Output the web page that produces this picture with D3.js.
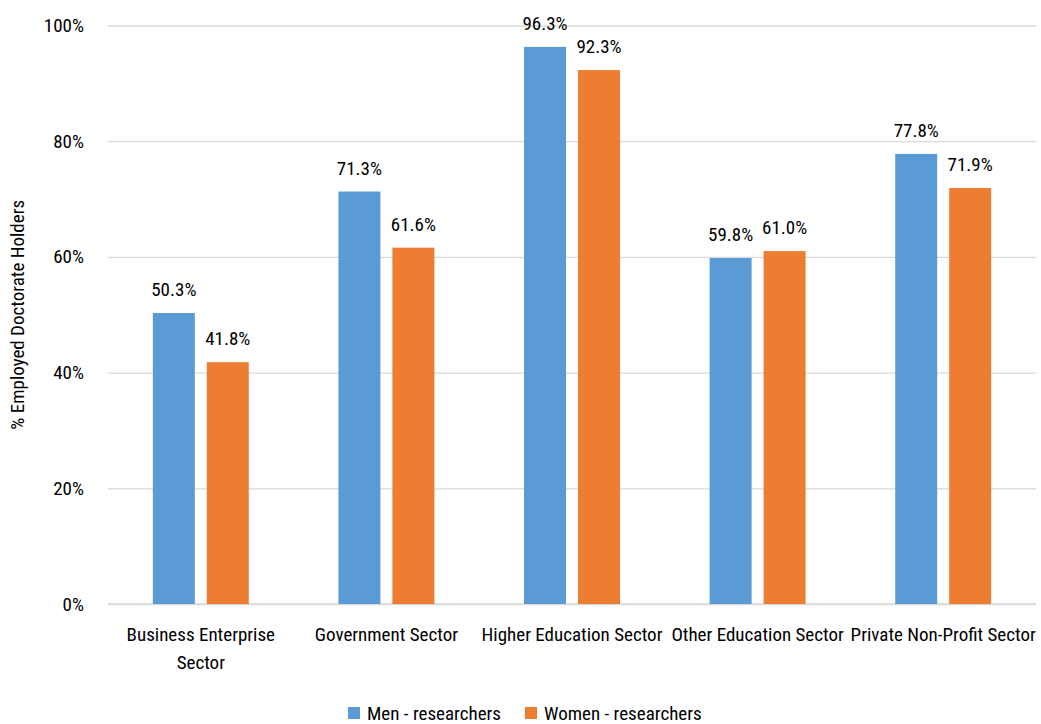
<!DOCTYPE html>
<html>
<head>
<meta charset="utf-8">
<script src="https://cdn.jsdelivr.net/npm/d3@7"></script>
<style>
  body { margin: 0; background: #fff; }
  svg text { font-family: "Liberation Sans Narrow", "Roboto Condensed", "DejaVu Sans Condensed", sans-serif; fill: #000; }
</style>
</head>
<body>
<svg class="chart" width="1041" height="724"></svg>
<script>
// categories (label lines as shown under the axis)
const categories = ['Business Enterprise Sector', 'Government Sector', 'Higher Education Sector', 'Other Education Sector', 'Private Non-Profit Sector'];
const categoryLines = [['Business Enterprise', 'Sector'], ['Government Sector'], ['Higher Education Sector'], ['Other Education Sector'], ['Private Non-Profit Sector']];
const seriesNames = ['Men - researchers', 'Women - researchers'];
const menValues = [50.3, 71.3, 96.3, 59.8, 77.8];
const womenValues = [41.8, 61.6, 92.3, 61.0, 71.9];
const yTicks = [0, 20, 40, 60, 80, 100];
const colors = ['#5B9BD5', '#ED7D31'];

const svg = d3.select('.chart');

// plot area
const plot = { left: 108, right: 1036, top: 25.5, bottom: 604 };

const x0 = d3.scaleBand()
    .domain(categories)
    .range([plot.left, plot.right])
    .paddingInner(0.483)
    .paddingOuter(0.2415);

const x1 = d3.scaleBand()
    .domain(seriesNames)
    .range([0, x0.bandwidth()])
    .paddingInner(0.222);

const y = d3.scaleLinear()
    .domain([0, 100])
    .range([plot.bottom, plot.top]);

const color = d3.scaleOrdinal().domain(seriesNames).range(colors);

// gridlines + y tick labels
const yAxis = svg.append('g')
    .attr('transform', 'translate(' + plot.left + ',0)')
    .call(d3.axisLeft(y).tickValues(yTicks).tickFormat(d => d + '%').tickSize(-(plot.right - plot.left)).tickPadding(24));
yAxis.select('.domain').remove();
yAxis.selectAll('.tick line').attr('stroke', '#D9D9D9').attr('stroke-width', 1.3);
yAxis.selectAll('.tick text').attr('font-size', 19).attr('fill', '#000');

// x axis baseline
svg.append('line')
    .attr('x1', plot.left).attr('x2', plot.right)
    .attr('y1', y(0)).attr('y2', y(0))
    .attr('stroke', '#D9D9D9').attr('stroke-width', 1.3);

// rows for the bars
const rows = categories.map((c, i) => ({
    cat: c,
    values: [
        { name: seriesNames[0], value: menValues[i] },
        { name: seriesNames[1], value: womenValues[i] }
    ]
}));

const groups = svg.selectAll('.group')
    .data(rows)
    .enter().append('g')
    .attr('class', 'group')
    .attr('transform', d => 'translate(' + x0(d.cat) + ',0)');

groups.selectAll('rect')
    .data(d => d.values)
    .enter().append('rect')
    .attr('x', d => x1(d.name))
    .attr('y', d => y(d.value))
    .attr('width', x1.bandwidth())
    .attr('height', d => y(0) - y(d.value))
    .attr('fill', d => color(d.name));

groups.selectAll('.val')
    .data(d => d.values)
    .enter().append('text')
    .attr('class', 'val')
    .attr('x', d => x1(d.name) + x1.bandwidth() / 2)
    .attr('y', d => y(d.value) - 17)
    .attr('text-anchor', 'middle')
    .attr('font-size', 19)
    .text(d => d.value.toFixed(1) + '%');

// category labels
categories.forEach((c, i) => {
    const t = svg.append('text')
        .attr('x', x0(c) + x0.bandwidth() / 2)
        .attr('y', 641)
        .attr('text-anchor', 'middle')
        .attr('font-size', 19);
    categoryLines[i].forEach((line, j) => {
        t.append('tspan')
            .attr('x', x0(c) + x0.bandwidth() / 2)
            .attr('dy', j === 0 ? 0 : 28)
            .text(line);
    });
});

// y axis title
svg.append('text')
    .attr('transform', 'translate(24,' + (plot.top + plot.bottom) / 2 + ') rotate(-90)')
    .attr('text-anchor', 'middle')
    .attr('font-size', 19)
    .text('% Employed Doctorate Holders');

// legend
const legend = svg.append('g').attr('class', 'legend');
const legendX = [348, 525];
seriesNames.forEach((s, i) => {
    legend.append('rect')
        .attr('x', legendX[i]).attr('y', 707)
        .attr('width', 12).attr('height', 12)
        .attr('fill', color(s));
    legend.append('text')
        .attr('x', legendX[i] + 19).attr('y', 720)
        .attr('font-size', 19)
        .text(s);
});
</script>
</body>
</html>
